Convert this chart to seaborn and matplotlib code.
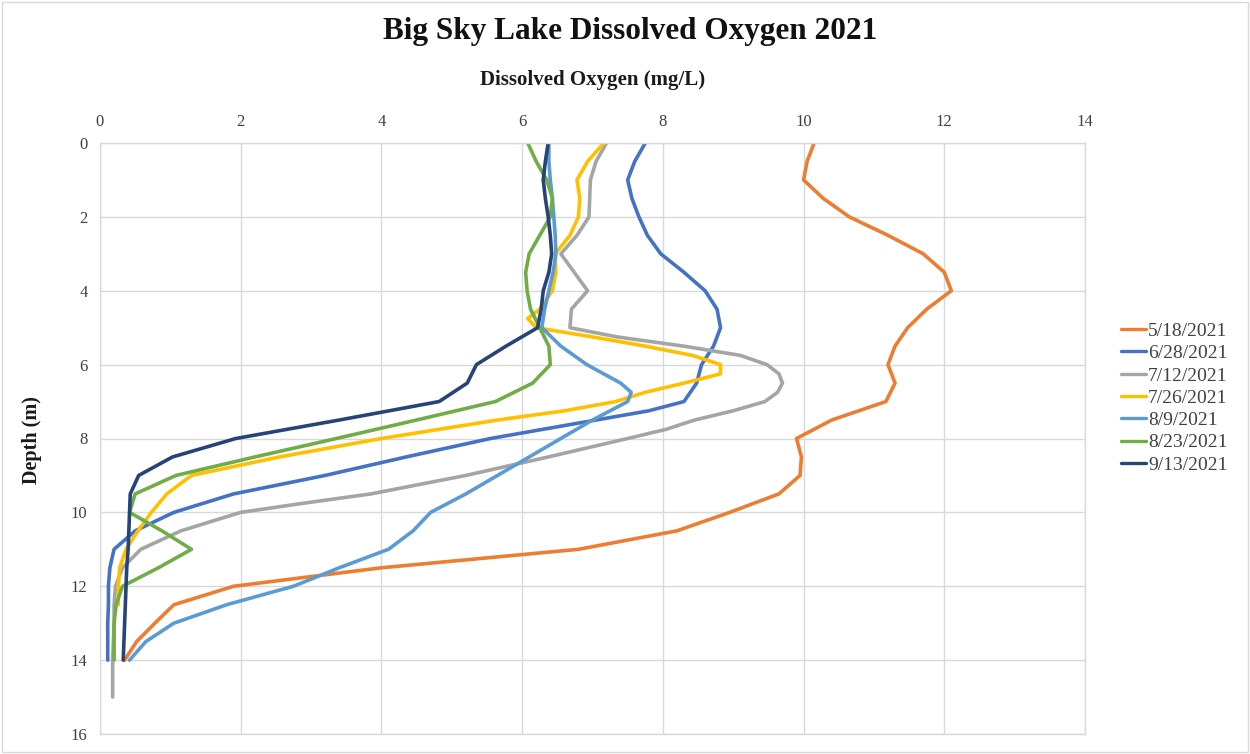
import numpy as np
import pandas as pd
import matplotlib
matplotlib.use("Agg")
import matplotlib.pyplot as plt
import seaborn as sns
from matplotlib.patches import Rectangle

# ---------------- data ----------------
dates = ["5/18/2021", "6/28/2021", "7/12/2021", "7/26/2021", "8/9/2021", "8/23/2021", "9/13/2021"]
colors = ["#ED7D31", "#4472C4", "#A5A5A5", "#FFC000", "#5B9BD5", "#70AD47", "#264478"]

depth_0518 = [0, 0.5, 1, 1.5, 2, 2.5, 3, 3.5, 4, 4.5, 5, 5.5, 6, 6.5, 7, 7.5, 8, 8.5, 9, 9.5,
              10, 10.5, 11, 11.5, 12, 12.5, 13, 13.5, 14]
do_0518 = [10.15, 10.05, 10.0, 10.28, 10.65, 11.2, 11.7, 12.0, 12.1, 11.75, 11.48, 11.3, 11.2, 11.3,
           11.17, 10.4, 9.9, 9.97, 9.95, 9.65, 8.95, 8.2, 6.8, 4.0, 1.9, 1.05, 0.78, 0.52, 0.35]

depth_0628 = [0, 0.5, 1, 1.5, 2, 2.5, 3, 3.5, 4, 4.5, 5, 5.5, 6, 6.5, 7, 7.25, 7.5, 8, 8.5, 9, 9.5,
              10, 10.5, 11, 11.5, 12, 12.5, 13, 13.5, 14]
do_0628 = [7.75, 7.6, 7.5, 7.56, 7.66, 7.78, 7.97, 8.3, 8.6, 8.77, 8.82, 8.72, 8.55, 8.48, 8.3, 7.8,
           7.05, 5.55, 4.35, 3.2, 1.9, 1.05, 0.5, 0.2, 0.14, 0.12, 0.12, 0.11, 0.11, 0.11]

depth_0712 = [0, 0.5, 1, 1.5, 2, 2.5, 3, 3.5, 4, 4.5, 5, 5.25, 5.5, 5.75, 6, 6.25, 6.5, 6.75, 7,
              7.25, 7.5, 7.75, 8, 8.5, 9, 9.5, 9.75, 10, 10.5, 11, 11.5, 12, 12.5, 13, 13.5, 14,
              14.5, 15]
do_0712 = [7.2, 7.05, 6.97, 6.96, 6.95, 6.78, 6.55, 6.74, 6.93, 6.7, 6.68, 7.35, 8.3, 9.1, 9.48,
           9.65, 9.7, 9.63, 9.45, 9.0, 8.45, 8.05, 7.5, 6.37, 5.2, 3.85, 2.9, 2.0, 1.15, 0.58,
           0.32, 0.22, 0.2, 0.2, 0.19, 0.18, 0.18, 0.18]

depth_0726 = [0, 0.5, 1, 1.5, 2, 2.5, 3, 3.5, 4, 4.5, 4.75, 5, 5.25, 5.5, 5.75, 6, 6.25, 6.5,
              6.75, 7, 7.25, 7.5, 8, 8.5, 9, 9.5, 10, 10.5, 11, 11.5, 12, 12.5]
do_0726 = [7.16, 6.93, 6.78, 6.82, 6.8, 6.68, 6.47, 6.48, 6.43, 6.25, 6.08, 6.2, 7.0, 7.75, 8.42,
           8.82, 8.82, 8.3, 7.75, 7.33, 6.6, 5.65, 4.0, 2.55, 1.3, 0.95, 0.73, 0.54, 0.37, 0.28,
           0.26, 0.26]

depth_0809 = [0, 0.5, 1, 1.5, 2, 2.5, 3, 3.5, 4, 4.5, 5, 5.5, 6, 6.5, 6.75, 7, 7.5, 8, 8.5, 9,
              9.5, 10, 10.5, 11, 11.5, 12, 12.5, 13, 13.5, 14]
do_0809 = [6.38, 6.38, 6.4, 6.43, 6.45, 6.47, 6.48, 6.44, 6.38, 6.32, 6.28, 6.55, 6.92, 7.4, 7.55,
           7.5, 7.0, 6.55, 6.1, 5.65, 5.2, 4.7, 4.45, 4.1, 3.4, 2.75, 1.8, 1.05, 0.65, 0.42]

depth_0823 = [0, 0.5, 1, 1.5, 2, 2.5, 3, 3.5, 4, 4.5, 5, 5.5, 6, 6.5, 7, 7.5, 8, 8.5, 9, 9.5,
              10, 10.5, 11, 11.5, 12, 12.5, 13, 13.5, 14]
do_0823 = [6.08, 6.2, 6.35, 6.43, 6.4, 6.25, 6.1, 6.05, 6.07, 6.12, 6.25, 6.38, 6.4, 6.15, 5.62,
           4.5, 3.36, 2.2, 1.08, 0.5, 0.42, 0.88, 1.3, 0.83, 0.32, 0.23, 0.2, 0.2, 0.2]

depth_0913 = [0, 0.5, 1, 1.5, 2, 2.5, 3, 3.5, 4, 4.5, 5, 5.5, 6, 6.5, 7, 7.5, 8, 8.5, 9, 9.5,
              10, 10.5, 11, 11.5, 12, 12.5, 13, 13.5, 14]
do_0913 = [6.37, 6.33, 6.3, 6.33, 6.37, 6.4, 6.42, 6.38, 6.3, 6.27, 6.22, 5.77, 5.35, 5.22, 4.82,
           3.4, 1.93, 1.03, 0.55, 0.43, 0.42, 0.41, 0.4, 0.38, 0.37, 0.36, 0.35, 0.34, 0.33]

x_ticks = [0, 2, 4, 6, 8, 10, 12, 14]
y_ticks = [0, 2, 4, 6, 8, 10, 12, 14, 16]

series = [(depth_0518, do_0518), (depth_0628, do_0628), (depth_0712, do_0712),
          (depth_0726, do_0726), (depth_0809, do_0809), (depth_0823, do_0823),
          (depth_0913, do_0913)]

frames = []
for name, (d, v) in zip(dates, series):
    frames.append(pd.DataFrame({"Date": name, "Depth": d, "DO": v}))
df = pd.concat(frames, ignore_index=True)

# ---------------- style ----------------
sns.set_style("white")
plt.rcParams["font.family"] = ["Liberation Serif", "DejaVu Serif"]

fig = plt.figure(figsize=(12.5, 7.54), dpi=100)
W, H = 1250, 754
ax = fig.add_axes([100 / W, 1 - 734 / H, 985 / W, 591 / H])

sns.lineplot(data=df, x="DO", y="Depth", hue="Date", hue_order=dates,
             palette=colors, orient="y", sort=False, estimator=None,
             linewidth=2.6, ax=ax, legend=True)
for ln in ax.get_lines():
    ln.set_solid_joinstyle("round")
    ln.set_solid_capstyle("round")

ax.set_xlim(0, 14)
ax.set_ylim(16, 0)
ax.set_xticks(x_ticks)
ax.set_yticks(y_ticks)
ax.xaxis.tick_top()
ax.tick_params(axis="both", length=0, labelsize=12, colors="#404040")
ax.tick_params(axis="x", pad=9)
ax.tick_params(axis="y", pad=9)
ax.grid(True, color="#d9d9d9", linewidth=1)
for s in ax.spines.values():
    s.set_color("#d9d9d9")
    s.set_linewidth(1)

ax.xaxis.set_label_position("top")
ax.set_xlabel("Dissolved Oxygen (mg/L)", fontsize=15, fontweight="bold", color="#1a1a1a")
ax.xaxis.set_label_coords(0.5, 1.098)
ax.set_ylabel("Depth (m)", fontsize=14.5, fontweight="bold", color="#1a1a1a")
ax.yaxis.set_label_coords(-0.059, 0.497)

fig.text(630 / W, 1 - 31 / H, "Big Sky Lake Dissolved Oxygen 2021", ha="center", va="center",
         fontsize=22.5, fontweight="bold", color="#111111")

handles, labels = ax.get_legend_handles_labels()
ax.get_legend().remove()
leg = fig.legend(handles, labels, loc="center left", bbox_to_anchor=(1113 / W, 1 - 398 / H),
                 frameon=False, fontsize=14, handlelength=1.3, handletextpad=0.1,
                 labelspacing=0.24, borderaxespad=0)
for t in leg.get_texts():
    t.set_color("#404040")
for h in leg.get_lines():
    h.set_linewidth(2.4)

fig.patches.append(Rectangle((2 / W, 2 / H), 1 - 4 / W, 1 - 4 / H, transform=fig.transFigure,
                             fill=False, edgecolor="#d9d9d9", linewidth=1))

fig.savefig("out.png", dpi=100, facecolor="white")
